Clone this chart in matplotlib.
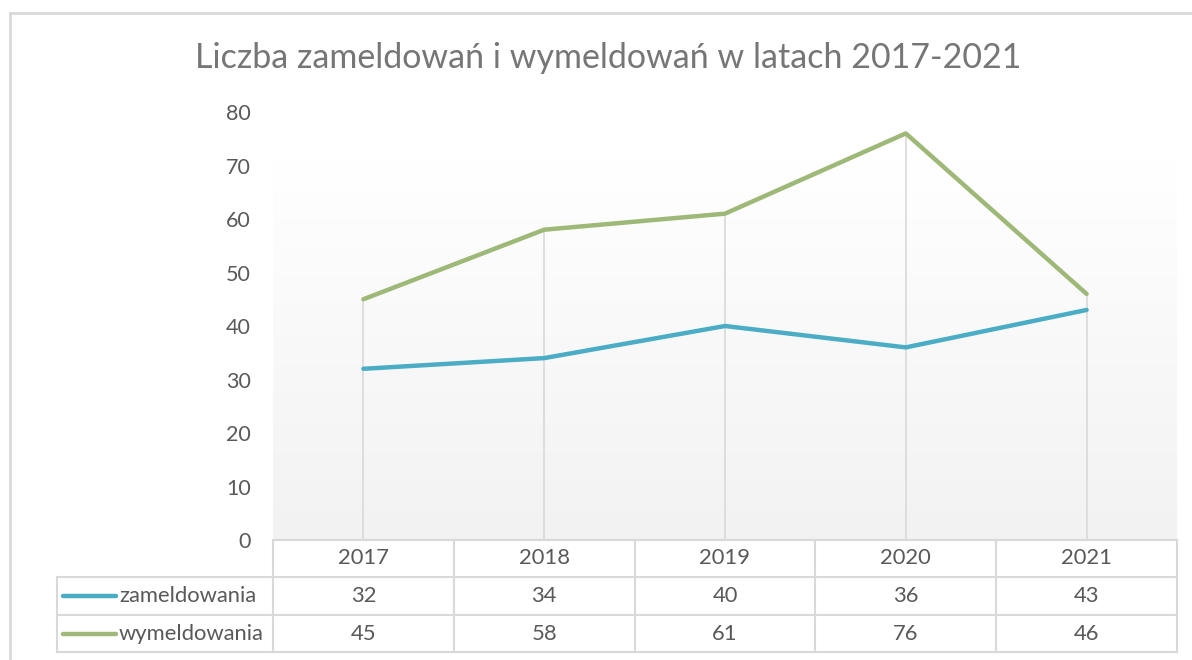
import numpy as np
import matplotlib
matplotlib.use("Agg")
import matplotlib.pyplot as plt
from matplotlib.lines import Line2D
from matplotlib.colors import LinearSegmentedColormap

plt.rcParams['font.family'] = ['Lato', 'DejaVu Sans']

years = ["2017", "2018", "2019", "2020", "2021"]
series_names = ["zameldowania", "wymeldowania"]
zameldowania = [32, 34, 40, 36, 43]
wymeldowania = [45, 58, 61, 76, 46]
title = "Liczba zameldowań i wymeldowań w latach 2017-2021"
colors = ["#4BACC6", "#9EB878"]
text_col = "#595959"
grid_col = "#D9D9D9"

W, H = 1192, 660
fig = plt.figure(figsize=(W / 100, H / 100), dpi=100)

def fx(px):
    return px / W

def fy(py):
    return 1 - py / H

# plot area
left_px, right_px, top_px, bot_px = 273, 1177, 112, 540
ax = fig.add_axes([fx(left_px), fy(bot_px), fx(right_px - left_px), (bot_px - top_px) / H])
x = np.arange(len(years))
ax.set_xlim(-0.5, len(years) - 0.5)
ax.set_ylim(0, 80)

# gradient background
cmap = LinearSegmentedColormap.from_list("g", ["#F2F2F2", "#FFFFFF"])
grad = np.linspace(0, 1, 256).reshape(-1, 1)
ax.imshow(grad, extent=(-0.5, len(years) - 0.5, 0, 71), origin="lower",
          aspect="auto", cmap=cmap, zorder=0)

# drop lines
tops = np.maximum(zameldowania, wymeldowania)
ax.vlines(x, 0, tops, color=grid_col, lw=1.2, zorder=1)

for vals, c in zip([zameldowania, wymeldowania], colors):
    ax.plot(x, vals, color=c, lw=3.2, zorder=3, solid_capstyle="round", solid_joinstyle="round")

for s in ax.spines.values():
    s.set_visible(False)
ax.set_xticks([])
ax.set_yticks(np.arange(0, 81, 10))
ax.tick_params(axis="y", length=0, pad=16, labelsize=15.5, labelcolor=text_col)

# title
fig.text(fx(608), fy(58), title, ha="center", va="center", fontsize=24.5,
         color="#767676")

# figure border
fig.add_artist(Line2D([fx(10), fx(10)], [fy(13), fy(H + 5)], color=grid_col, lw=2))
fig.add_artist(Line2D([fx(10), fx(W + 5)], [fy(13), fy(13)], color=grid_col, lw=2))

# data table
row_y = [540, 577, 615, 652]
tab_left = 57
col_edges = [left_px + i * (right_px - left_px) / len(years) for i in range(len(years) + 1)]
lw_t = 1.5
def hline(y, x0, x1):
    fig.add_artist(Line2D([fx(x0), fx(x1)], [fy(y), fy(y)], color=grid_col, lw=lw_t))
def vline(xp, y0, y1):
    fig.add_artist(Line2D([fx(xp), fx(xp)], [fy(y0), fy(y1)], color=grid_col, lw=lw_t))

hline(row_y[0], left_px, right_px)
for y in row_y[1:]:
    hline(y, tab_left, right_px)
for xe in col_edges:
    vline(xe, row_y[0], row_y[3])
vline(tab_left, row_y[1], row_y[3])

fs_t = 15.8
for i, yr in enumerate(years):
    cx = (col_edges[i] + col_edges[i + 1]) / 2
    fig.text(fx(cx), fy((row_y[0] + row_y[1]) / 2), yr, ha="center", va="center",
             fontsize=fs_t, color=text_col)
for r, (name, vals, c) in enumerate(zip(series_names, [zameldowania, wymeldowania], colors)):
    cy = (row_y[r + 1] + row_y[r + 2]) / 2
    fig.add_artist(Line2D([fx(63), fx(116)], [fy(cy), fy(cy)], color=c, lw=3.2,
                          solid_capstyle="round"))
    fig.text(fx(119), fy(cy), name, ha="left", va="center", fontsize=fs_t,
             color=text_col)
    for i, v in enumerate(vals):
        cx = (col_edges[i] + col_edges[i + 1]) / 2
        fig.text(fx(cx), fy(cy), str(v), ha="center", va="center", fontsize=fs_t,
                 color=text_col)

fig.savefig("out.png", dpi=100, facecolor="white")
